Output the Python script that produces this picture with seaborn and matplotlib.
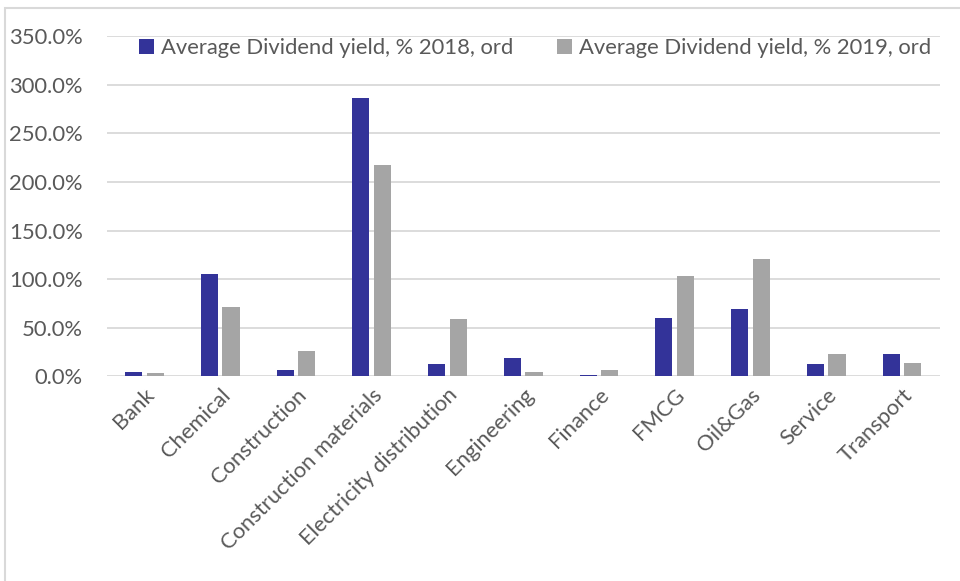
import matplotlib
matplotlib.use('Agg')
import matplotlib.pyplot as plt
import pandas as pd
import seaborn as sns
from matplotlib.ticker import FuncFormatter

sectors = ["Bank", "Chemical", "Construction", "Construction materials",
           "Electricity distribution", "Engineering", "Finance", "FMCG",
           "Oil&Gas", "Service", "Transport"]
yield_2018 = [5.0, 105.0, 7.0, 286.0, 12.7, 19.0, 2.0, 60.0, 69.7, 12.7, 23.0]
yield_2019 = [3.5, 71.0, 26.0, 217.0, 58.6, 4.8, 7.0, 103.6, 121.0, 23.0, 14.0]
series_names = ["Average Dividend yield, % 2018, ord",
                "Average Dividend yield, % 2019, ord"]
y_ticks = [0, 50, 100, 150, 200, 250, 300, 350]

df = pd.DataFrame({
    "sector": sectors * 2,
    "value": yield_2018 + yield_2019,
    "series": [series_names[0]] * len(sectors) + [series_names[1]] * len(sectors),
})

sns.set_style("white")
plt.rcParams['font.family'] = ['Lato', 'DejaVu Sans']

text_col = "#595959"
grid_col = "#d9d9d9"
fs = 15.8

fig = plt.figure(figsize=(9.6, 5.81), dpi=100)
ax = fig.add_axes([0.111, 0.352, 0.868, 0.586])

sns.barplot(data=df, x="sector", y="value", hue="series",
            palette=["#333399", "#a5a5a5"], width=0.57, gap=0.21,
            saturation=1, linewidth=0, ax=ax, zorder=3)

ax.set_ylim(0, 350)
ax.set_yticks(y_ticks)
ax.yaxis.set_major_formatter(FuncFormatter(lambda v, p: f"{v:.1f}%"))
ax.grid(axis="y", color=grid_col, lw=1.3, zorder=0)
ax.set_axisbelow(True)
for s in ax.spines.values():
    s.set_visible(False)
ax.tick_params(axis="both", length=0, labelsize=fs, colors=text_col)
ax.tick_params(axis="y", pad=17)
ax.tick_params(axis="x", pad=6)
ax.set_xlabel("")
ax.set_ylabel("")
plt.setp(ax.get_xticklabels(), rotation=45, ha="right", rotation_mode="anchor")

handles, labels = ax.get_legend_handles_labels()
ax.legend(handles, labels, ncol=2, loc="center", bbox_to_anchor=(0.557, 0.917),
          bbox_transform=fig.transFigure, frameon=False, fontsize=fs,
          labelcolor=text_col, handlelength=0.7, handleheight=0.7,
          handletextpad=0.3, columnspacing=2.0)

# light frame round the chart area
fig.add_artist(plt.Rectangle((0.005, -0.02), 1.1, 1.006, transform=fig.transFigure,
                             fill=False, edgecolor=grid_col, lw=1.5))

plt.savefig("out.png", dpi=100)
